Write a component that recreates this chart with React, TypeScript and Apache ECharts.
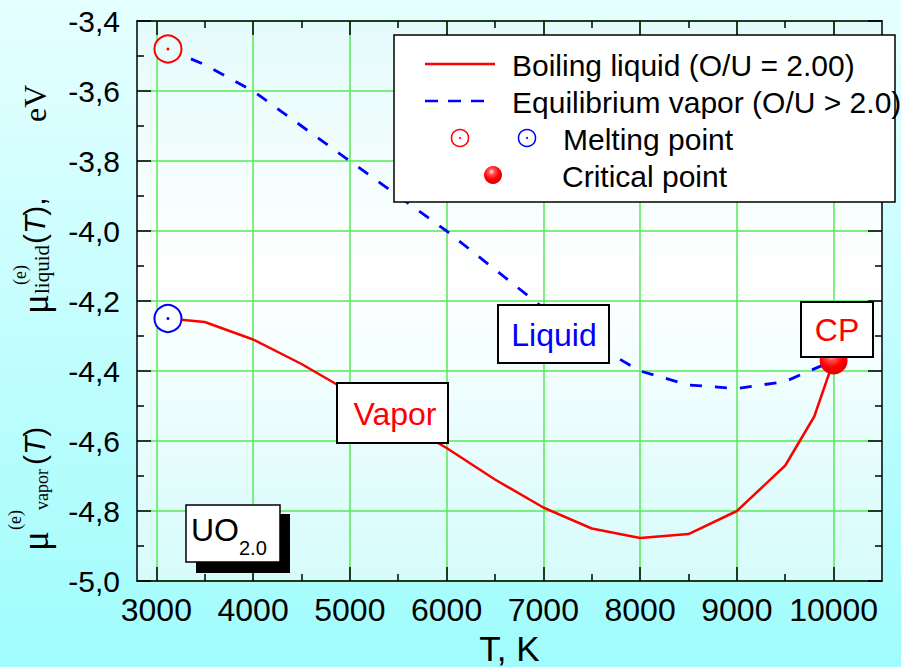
import React, { useEffect, useRef } from 'react';
import * as echarts from 'echarts';

// ---- data ----
const boilingT = [3120, 3500, 4000, 4500, 5000, 5500, 6000, 6500, 7000, 7500, 8000, 8500, 9000, 9500, 9800, 10000];
const boilingMu = [-4.25, -4.26, -4.31, -4.38, -4.46, -4.54, -4.62, -4.71, -4.79, -4.85, -4.877, -4.866, -4.8, -4.67, -4.53, -4.37];
const vaporT = [3120, 3500, 4000, 4500, 5000, 5500, 6000, 6500, 7000, 7500, 8000, 8500, 9000, 9500, 10000];
const vaporMu = [-3.48, -3.525, -3.6, -3.7, -3.8, -3.9, -4.0, -4.11, -4.22, -4.32, -4.4, -4.44, -4.45, -4.43, -4.37];
const meltT = [3120, 3120];
const meltMu = [-3.48, -4.25];
const meltColors = ['#ff0000', '#0000ff'];
const meltFill = ['#e8fcfc', '#fbffff'];
const criticalT = [10000];
const criticalMu = [-4.37];
const xMajorTicks = [3000, 4000, 5000, 6000, 7000, 8000, 9000, 10000];
const xMinorTicks = [3500, 4500, 5500, 6500, 7500, 8500, 9500];
const xMin = 2800;
const xMax = 10500;
const yMin = -5.0;
const yMax = -3.4;
const yStep = 0.2;
const legendLabels = ['Boiling liquid (O/U = 2.00)', 'Equilibrium vapor (O/U > 2.0)', 'Melting point', 'Critical point'];

const SANS = '"Liberation Sans", Arial, Helvetica, sans-serif';
const SERIF = '"Liberation Serif", "Times New Roman", serif';

function txt(x: number, y: number, text: string, font: string, fill: string, align = 'left', vAlign = 'middle', rotation = 0, z = 100): any {
  return {
    type: 'text', x, y, rotation, z,
    style: { text, font, fill, align, verticalAlign: vAlign, textAlign: align, textVerticalAlign: vAlign },
  };
}

function richT(x: number, y: number, tail: string): any {
  return {
    type: 'text', x, y, rotation: Math.PI / 2, z: 100,
    style: {
      text: '{p|(}{t|T}{p|' + tail + '}',
      font: '30px ' + SANS,
      fill: '#000',
      align: 'left', verticalAlign: 'middle', textAlign: 'left', textVerticalAlign: 'middle',
      rich: {
        p: { font: '30px ' + SANS, fill: '#000', color: '#000' },
        t: { font: 'italic 30px ' + SANS, fill: '#000', color: '#000' },
      },
    },
  };
}

function sphere() {
  return new echarts.graphic.RadialGradient(0.42, 0.32, 0.7, [
    { offset: 0, color: '#ffe0e0' },
    { offset: 0.25, color: '#ff5050' },
    { offset: 0.6, color: '#ff0000' },
    { offset: 1, color: '#e00000' },
  ]);
}

export default function App() {
  const ref = useRef<HTMLDivElement>(null);
  useEffect(() => {
    if (!ref.current) return;
    const chart = echarts.init(ref.current, null, { renderer: 'svg' });
    const rot = Math.PI / 2;
    const graphic: any[] = [
      // y-axis title (rotated pieces)
      txt(35, 551, 'μ', '37px ' + SERIF, '#000', 'left', 'middle', rot),
      txt(15, 530, '(e)', '18px ' + SERIF, '#000', 'left', 'middle', rot),
      txt(42, 510, 'vapor', '18px ' + SERIF, '#000', 'left', 'middle', rot),
      richT(34, 465, ')'),
      txt(35, 314, 'μ', '37px ' + SERIF, '#000', 'left', 'middle', rot),
      txt(20, 285, '(e)', '18px ' + SERIF, '#000', 'left', 'middle', rot),
      txt(42, 294, 'liquid', '21px ' + SERIF, '#000', 'left', 'middle', rot),
      richT(34, 244, '),'),
      txt(35, 122, 'eV', '32px ' + SERIF, '#000', 'left', 'middle', rot),
      // legend
      { type: 'rect', z: 100, shape: { x: 394, y: 35, width: 501, height: 167 }, style: { fill: '#ffffff', stroke: '#000', lineWidth: 1.5 } },
      { type: 'line', z: 101, shape: { x1: 425, y1: 64, x2: 495, y2: 64 }, style: { stroke: '#ff0000', lineWidth: 2.5 } },
      txt(512, 65, legendLabels[0], '30px ' + SANS, '#000', 'left', 'middle', 0, 101),
      { type: 'line', z: 101, shape: { x1: 425, y1: 101, x2: 488, y2: 101 }, style: { stroke: '#0000ff', lineWidth: 2.5, lineDash: [13, 10] } },
      txt(512, 102, legendLabels[1], '30px ' + SANS, '#000', 'left', 'middle', 0, 101),
      { type: 'circle', z: 101, shape: { cx: 460, cy: 138, r: 8.5 }, style: { fill: 'none', stroke: '#ff0000', lineWidth: 1.5 } },
      { type: 'circle', z: 101, shape: { cx: 460, cy: 138, r: 1 }, style: { fill: '#ff0000' } },
      { type: 'circle', z: 101, shape: { cx: 527, cy: 138, r: 8.5 }, style: { fill: 'none', stroke: '#0000ff', lineWidth: 1.5 } },
      { type: 'circle', z: 101, shape: { cx: 527, cy: 138, r: 1 }, style: { fill: '#0000ff' } },
      txt(563, 139, legendLabels[2], '30px ' + SANS, '#000', 'left', 'middle', 0, 101),
      { type: 'circle', z: 101, shape: { cx: 493, cy: 175, r: 9 }, style: { fill: sphere() } },
      txt(562, 176, legendLabels[3], '30px ' + SANS, '#000', 'left', 'middle', 0, 101),
      // annotation boxes
      { type: 'rect', z: 100, shape: { x: 498, y: 305, width: 111, height: 58 }, style: { fill: '#ffffff', stroke: '#000', lineWidth: 2 } },
      txt(554, 335, 'Liquid', '32px ' + SANS, '#0000ff', 'center', 'middle', 0, 101),
      { type: 'rect', z: 100, shape: { x: 337, y: 383, width: 111, height: 60 }, style: { fill: '#ffffff', stroke: '#000', lineWidth: 2 } },
      txt(395, 414, 'Vapor', '32px ' + SANS, '#ff0000', 'center', 'middle', 0, 101),
      { type: 'rect', z: 100, shape: { x: 801, y: 302, width: 72, height: 55 }, style: { fill: '#ffffff', stroke: '#000', lineWidth: 2 } },
      txt(837, 330, 'CP', '32px ' + SANS, '#ff0000', 'center', 'middle', 0, 101),
      { type: 'rect', z: 100, shape: { x: 196, y: 514, width: 94, height: 59 }, style: { fill: '#000000' } },
      { type: 'rect', z: 101, shape: { x: 186, y: 505, width: 94, height: 57 }, style: { fill: '#ffffff', stroke: '#000', lineWidth: 1.5 } },
      txt(191, 530, 'UO', '32px ' + SANS, '#000', 'left', 'middle', 0, 102),
      txt(239, 548, '2.0', '20px ' + SANS, '#000', 'left', 'middle', 0, 102),
    ];

    const baseX = { type: 'value', min: xMin, max: xMax, gridIndex: 0 };
    const tickStyle = { color: '#000', width: 1.5 };
    const option: any = {
      animation: false,
      grid: {
        left: 137, right: 19, top: 21, bottom: 86,
        show: true, borderWidth: 0,
        backgroundColor: new echarts.graphic.LinearGradient(0, 0, 0, 1, [
          { offset: 0, color: '#e4fbfb' },
          { offset: 0.45, color: '#ffffff' },
          { offset: 1, color: '#d6fbfb' },
        ]),
        containLabel: false,
        outerBoundsMode: 'none',
      },
      xAxis: [
        {
          ...baseX, position: 'bottom',
          name: 'T, K', nameLocation: 'middle', nameGap: 42,
          nameTextStyle: { fontSize: 35, fontFamily: SANS, color: '#000' },
          axisLine: { show: true, onZero: false, lineStyle: { color: '#000', width: 1.5 } },
          axisTick: { show: true, inside: true, length: 14, customValues: xMajorTicks, lineStyle: tickStyle },
          axisLabel: { show: true, customValues: xMajorTicks, margin: 13, fontSize: 32, fontFamily: SANS, color: '#000', formatter: (v: number) => String(v) },
          splitLine: { show: true, lineStyle: { color: '#55ea55', width: 1.5 } },
        },
        {
          ...baseX, position: 'bottom',
          axisLine: { show: false, onZero: false },
          axisTick: { show: true, inside: true, length: 7, customValues: xMinorTicks, lineStyle: tickStyle },
          axisLabel: { show: false },
          splitLine: { show: false },
        },
        {
          ...baseX, position: 'top',
          axisLine: { show: true, onZero: false, lineStyle: { color: '#000', width: 1.5 } },
          axisTick: { show: true, inside: true, length: 14, customValues: xMajorTicks, lineStyle: tickStyle },
          axisLabel: { show: false },
          splitLine: { show: false },
        },
        {
          ...baseX, position: 'top',
          axisLine: { show: false, onZero: false },
          axisTick: { show: true, inside: true, length: 7, customValues: xMinorTicks, lineStyle: tickStyle },
          axisLabel: { show: false },
          splitLine: { show: false },
        },
      ],
      yAxis: [
        {
          type: 'value', min: yMin, max: yMax, interval: yStep, position: 'left',
          axisLine: { show: true, onZero: false, lineStyle: { color: '#000', width: 1.5 } },
          axisTick: { show: true, inside: true, length: 14, lineStyle: tickStyle },
          minorTick: { show: true, splitNumber: 2, length: 7, lineStyle: tickStyle },
          axisLabel: { show: true, margin: 17, fontSize: 30, fontFamily: SANS, color: '#000', formatter: (v: number) => v.toFixed(1).replace('.', ',') },
          splitLine: { show: true, lineStyle: { color: '#55ea55', width: 1.5 } },
        },
        {
          type: 'value', min: yMin, max: yMax, interval: yStep, position: 'right',
          axisLine: { show: true, onZero: false, lineStyle: { color: '#000', width: 1.5 } },
          axisTick: { show: true, inside: true, length: 14, lineStyle: tickStyle },
          minorTick: { show: true, splitNumber: 2, length: 7, lineStyle: tickStyle },
          axisLabel: { show: false },
          splitLine: { show: false },
        },
      ],
      series: [
        {
          type: 'line', name: legendLabels[0], xAxisIndex: 0, yAxisIndex: 0,
          data: boilingT.map((t, i) => [t, boilingMu[i]]),
          symbol: 'none', lineStyle: { color: '#ff0000', width: 2.5 }, z: 3,
        },
        {
          type: 'line', name: legendLabels[1], xAxisIndex: 0, yAxisIndex: 0,
          data: vaporT.map((t, i) => [t, vaporMu[i]]),
          symbol: 'none', lineStyle: { color: '#0000ff', width: 2.8, type: [12, 13] }, z: 3,
        },
        {
          type: 'scatter', name: legendLabels[2], xAxisIndex: 0, yAxisIndex: 0,
          data: meltT.map((t, i) => ({ value: [t, meltMu[i]], itemStyle: { color: meltFill[i], borderColor: meltColors[i] } })),
          symbol: 'circle', symbolSize: 27, itemStyle: { borderWidth: 2, opacity: 1 }, z: 4,
          emphasis: { disabled: true },
        },
        {
          type: 'scatter', xAxisIndex: 0, yAxisIndex: 0,
          data: meltT.map((t, i) => ({ value: [t, meltMu[i]], itemStyle: { color: meltColors[i] } })),
          symbol: 'circle', symbolSize: 3, itemStyle: { opacity: 1 }, z: 5,
          emphasis: { disabled: true },
        },
        {
          type: 'scatter', name: legendLabels[3], xAxisIndex: 0, yAxisIndex: 0,
          data: criticalT.map((t, i) => [t, criticalMu[i]]),
          symbol: 'circle', symbolSize: 28, itemStyle: { color: sphere(), opacity: 1 }, z: 6,
          emphasis: { disabled: true },
        },
      ],
      graphic,
    };
    chart.setOption(option);
    return () => chart.dispose();
  }, []);
  return (
    <div
      ref={ref}
      style={{
        position: 'fixed', left: 0, top: 0, width: 901, height: 667,
        background: 'linear-gradient(180deg, #e6ffff 0%, #a0fcfc 100%)',
      }}
    />
  );
}
